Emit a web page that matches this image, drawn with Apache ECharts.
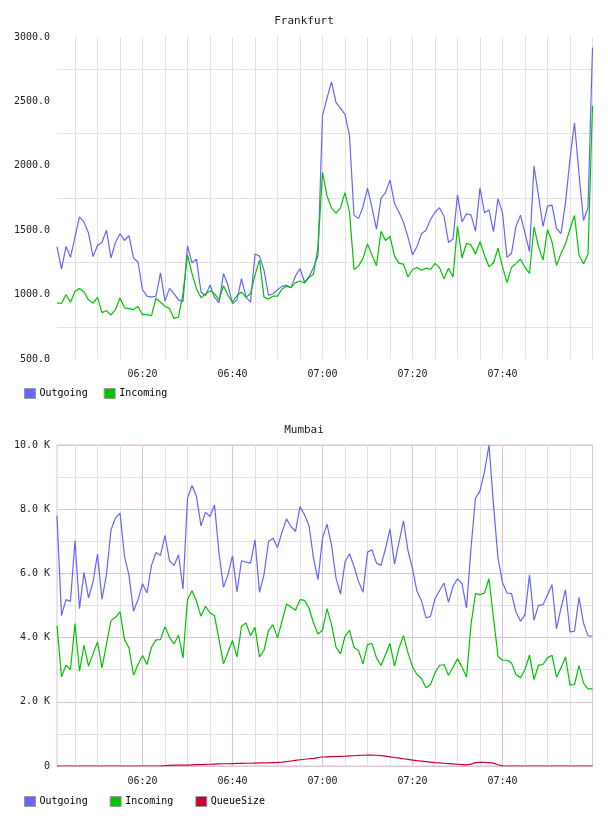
<!DOCTYPE html>
<html>
<head>
<meta charset="utf-8">
<script src="https://cdn.jsdelivr.net/npm/echarts@6/dist/echarts.min.js"></script>
<style>
  html, body { margin: 0; padding: 0; background: #fff; }
  #chart { width: 608px; height: 816px; }
</style>
</head>
<body>
<div id="chart"></div>
<script>
// one sample per minute, 06:01 .. 08:00
const startMinute = 6 * 60 + 1;
const sampleCount = 120;

const seriesNames = ['Outgoing', 'Incoming', 'QueueSize'];
const labelTimes = ['06:20', '06:40', '07:00', '07:20', '07:40'];

const fraOutgoing = [
  1373, 1198, 1373, 1289, 1446, 1603, 1562, 1478, 1295, 1381, 1407, 1499, 1284, 1407, 1473, 1420, 1457, 1284, 1253, 1038,
  988, 980, 988, 1169, 949, 1048, 1007, 959, 946, 1378, 1247, 1274, 1020, 993, 1075, 980, 936, 1164, 1072, 928,
  959, 1124, 980, 941, 1315, 1299, 1190, 993, 1007, 1038, 1064, 1072, 1054, 1145, 1203, 1098, 1137, 1211, 1299, 2389,
  2525, 2651, 2493, 2446, 2399, 2232, 1617, 1590, 1682, 1826, 1674, 1509, 1747, 1792, 1891, 1708, 1640, 1562, 1446, 1308,
  1373, 1473, 1499, 1583, 1640, 1674, 1609, 1405, 1431, 1774, 1564, 1627, 1619, 1491, 1829, 1635, 1656, 1488, 1745, 1635,
  1289, 1321, 1530, 1617, 1478, 1334, 1997, 1766, 1530, 1687, 1695, 1512, 1473, 1714, 2054, 2334, 1936, 1575, 1674, 2918
];
const fraIncoming = [
  936, 931, 999, 941, 1025, 1048, 1020, 959, 933, 978, 860, 876, 842, 884, 973, 897, 891, 884, 907, 844,
  847, 836, 973, 941, 910, 891, 815, 826, 1007, 1308, 1164, 1046, 975, 1007, 1028, 1007, 959, 1069, 993, 941,
  993, 1020, 980, 1007, 1151, 1268, 980, 965, 988, 988, 1043, 1064, 1054, 1093, 1106, 1090, 1132, 1158, 1373, 1949,
  1766, 1674, 1630, 1674, 1792, 1640, 1195, 1221, 1281, 1394, 1308, 1224, 1491, 1420, 1452, 1299, 1242, 1236, 1137, 1195,
  1211, 1190, 1205, 1195, 1242, 1211, 1122, 1205, 1137, 1530, 1284, 1399, 1386, 1315, 1410, 1305, 1216, 1247, 1360, 1216,
  1093, 1211, 1242, 1274, 1211, 1164, 1525, 1373, 1268, 1504, 1410, 1226, 1320, 1394, 1509, 1614, 1308, 1237, 1315, 2467
];

const bomOutgoing = [
  7793, 4684, 5182, 5130, 7026, 4902, 6031, 5233, 5731, 6601, 5192, 5979, 7358, 7720, 7876, 6529, 5938, 4819, 5182, 5679,
  5389, 6249, 6653, 6560, 7181, 6394, 6249, 6580, 5513, 8342, 8736, 8394, 7482, 7907, 7772, 8135, 6632, 5565, 5959, 6545,
  5420, 6394, 6353, 6321, 7047, 5410, 5959, 6995, 7099, 6808, 7285, 7700, 7461, 7306, 8083, 7824, 7492, 6477, 5803, 7099,
  7534, 6891, 5855, 5358, 6353, 6612, 6218, 5751, 5410, 6663, 6736, 6321, 6249, 6767, 7389, 6290, 6974, 7638, 6705, 6150,
  5441, 5150, 4612, 4663, 5213, 5461, 5700, 5099, 5596, 5834, 5679, 4922, 6788, 8342, 8570, 9171, 10000, 8135, 6477, 5720,
  5389, 5368, 4798, 4508, 4715, 5959, 4539, 5005, 5026, 5337, 5648, 4270, 4922, 5492, 4176, 4197, 5254, 4456, 4062, 4042
];
const bomIncoming = [
  4373, 2777, 3140, 3005, 4435, 2953, 3762, 3109, 3492, 3865, 3057, 3803, 4529, 4632, 4808, 3938, 3679, 2829, 3161, 3441,
  3161, 3700, 3928, 3938, 4342, 4010, 3803, 4073, 3368, 5182, 5461, 5130, 4663, 4974, 4767, 4684, 3938, 3181, 3544, 3910,
  3399, 4352, 4456, 4062, 4321, 3399, 3606, 4218, 4404, 3990, 4508, 5047, 4954, 4850, 5182, 5161, 4922, 4456, 4114, 4228,
  4902, 4404, 3700, 3492, 4042, 4228, 3700, 3596, 3181, 3783, 3814, 3368, 3130, 3472, 3814, 3109, 3679, 4062, 3523, 3090,
  2850, 2725, 2435, 2539, 2902, 3130, 3161, 2829, 3078, 3337, 3088, 2767, 4404, 5368, 5337, 5389, 5834, 4612, 3420, 3295,
  3295, 3213, 2850, 2746, 3005, 3451, 2694, 3140, 3161, 3368, 3451, 2767, 3057, 3399, 2518, 2539, 3130, 2591, 2404, 2404
];
const bomQueue = [
  0, 0, 0, 0, 0, 0, 0, 0, 0, 0, 0, 0, 0, 0, 0, 0, 0, 0, 0, 0,
  0, 0, 0, 0, 10, 20, 25, 30, 30, 30, 35, 40, 45, 50, 55, 60, 65, 70, 70, 75,
  80, 80, 85, 85, 90, 95, 100, 100, 105, 110, 120, 135, 155, 175, 195, 210, 225, 240, 260, 280,
  285, 290, 295, 300, 305, 315, 320, 330, 335, 340, 340, 335, 325, 305, 285, 265, 245, 225, 205, 185,
  165, 150, 135, 120, 105, 95, 85, 75, 65, 55, 45, 35, 60, 105, 115, 115, 105, 90, 40, 5,
  0, 0, 0, 0, 0, 0, 0, 0, 0, 0, 0, 0, 0, 0, 0, 0, 0, 0, 0, 0
];

const times = [];
for (let i = 0; i < sampleCount; i++) {
  const m = startMinute + i;
  times.push(String(Math.floor(m / 60)).padStart(2, '0') + ':' + String(m % 60).padStart(2, '0'));
}

const blue = '#6666ff';
const green = '#00c400';
const red = '#cc0033';
const gray = '#e2e2e2';
const pink = '#dcc2dc';
const font = 'DejaVu Sans Mono';
const textColor = '#222';

function minuteOf(t) {
  return parseInt(t.slice(3), 10);
}

function xAxisFor(gridIndex, lineColors) {
  return {
    type: 'category',
    gridIndex: gridIndex,
    data: times,
    boundaryGap: false,
    axisLine: { show: false },
    axisTick: { show: false },
    axisLabel: {
      interval: (i, v) => labelTimes.indexOf(v) >= 0,
      margin: 10,
      fontFamily: font,
      fontSize: 10,
      color: textColor
    },
    splitLine: {
      show: true,
      interval: (i, v) => minuteOf(v) % 5 === 0,
      lineStyle: { color: lineColors, width: 1 }
    }
  };
}

function lineSeries(name, data, color, idx) {
  return {
    name: name,
    type: 'line',
    xAxisIndex: idx,
    yAxisIndex: idx,
    data: data,
    symbol: 'none',
    color: color,
    lineStyle: { color: color, width: 1.2 },
    itemStyle: { color: color }
  };
}

const chart = echarts.init(document.getElementById('chart'), null, { renderer: 'canvas' });

const titleStyle = { fontFamily: font, fontSize: 11, fontWeight: 'normal', color: textColor };
const legendBase = {
  left: 24,
  padding: 0,
  icon: 'rect',
  itemWidth: 11,
  itemHeight: 10,
  itemStyle: { borderColor: '#999', borderWidth: 1 },
  textStyle: { fontFamily: font, fontSize: 10, color: '#000', padding: [0, 0, 0, -1] }
};

chart.setOption({
  animation: false,
  backgroundColor: '#fff',
  title: [
    { text: 'Frankfurt', left: 'center', top: 16, padding: 0, textStyle: titleStyle },
    { text: 'Mumbai', left: 'center', top: 425, padding: 0, textStyle: titleStyle }
  ],
  legend: [
    Object.assign({}, legendBase, { top: 388, itemGap: 16, data: seriesNames.slice(0, 2) }),
    Object.assign({}, legendBase, { top: 796, itemGap: 22, data: seriesNames })
  ],
  grid: [
    { left: 57, right: 15.5, top: 37, height: 322 },
    { left: 57, right: 15.5, top: 445, height: 321, show: true, borderColor: pink, borderWidth: 1 }
  ],
  xAxis: [
    xAxisFor(0, [gray]),
    xAxisFor(1, [gray, gray, gray, pink])
  ],
  yAxis: [
    {
      type: 'value',
      gridIndex: 0,
      min: 500,
      max: 3000,
      interval: 250,
      axisLine: { show: false },
      axisTick: { show: false },
      axisLabel: {
        formatter: v => (v % 500 === 0 ? v.toFixed(1) : ''),
        margin: 7,
        fontFamily: font,
        fontSize: 10,
        color: textColor
      },
      splitLine: { lineStyle: { color: ['rgba(0,0,0,0)', gray], width: 1 } }
    },
    {
      type: 'value',
      gridIndex: 1,
      min: 0,
      max: 10000,
      interval: 1000,
      axisLine: { show: false },
      axisTick: { show: false },
      axisLabel: {
        formatter: v => (v === 0 ? '0' : (v % 2000 === 0 ? (v / 1000).toFixed(1) + ' K' : '')),
        margin: 7,
        fontFamily: font,
        fontSize: 10,
        color: textColor
      },
      splitLine: { lineStyle: { color: [pink, gray], width: 1 } }
    }
  ],
  series: [
    lineSeries('Outgoing', fraOutgoing, blue, 0),
    lineSeries('Incoming', fraIncoming, green, 0),
    lineSeries('Outgoing', bomOutgoing, blue, 1),
    lineSeries('Incoming', bomIncoming, green, 1),
    lineSeries('QueueSize', bomQueue, red, 1)
  ]
});
</script>
</body>
</html>
